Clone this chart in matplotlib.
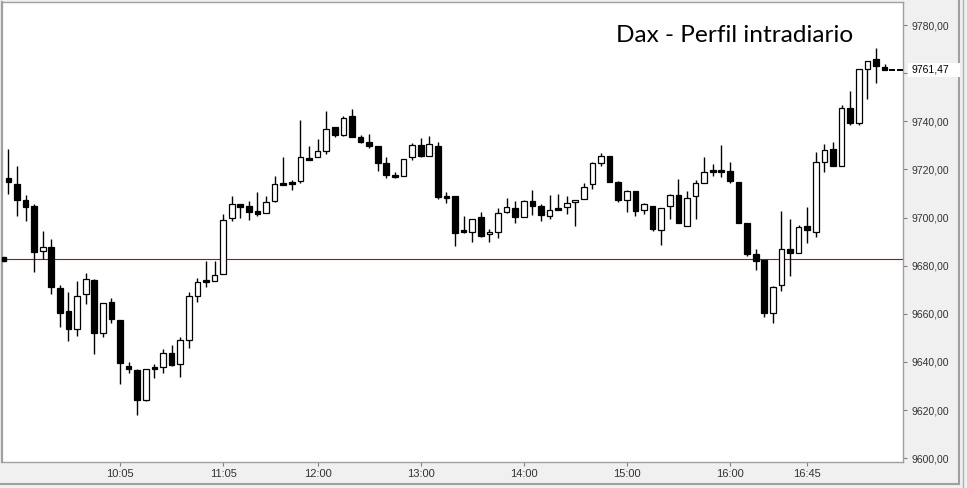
import matplotlib
matplotlib.use("Agg")
import matplotlib.pyplot as plt
from matplotlib.patches import Rectangle
import numpy as np

# 5-minute candles starting 09:00 (index 0)
opens = [9716.3, 9713.9, 9707.5, 9704.8, 9686.2, 9687.6, 9670.6, 9661.2, 9653.5, 9668.1,
         9673.9, 9651.9, 9664.8, 9657.4, 9638.3, 9636.6, 9624.2, 9637.9, 9638.0, 9643.6,
         9639.0, 9649.2, 9667.5, 9674.0, 9673.7, 9676.7, 9699.7, 9705.5, 9704.8, 9702.7,
         9702.1, 9706.7, 9714.3, 9714.7, 9715.0, 9724.6, 9725.3, 9727.8, 9737.5, 9734.4,
         9742.2, 9733.4, 9731.4, 9729.7, 9722.8, 9717.7, 9717.4, 9725.0, 9730.1, 9725.7,
         9729.7, 9708.9, 9708.9, 9694.8, 9694.1, 9700.2, 9693.0, 9694.1, 9702.4, 9703.8,
         9700.3, 9706.7, 9704.6, 9700.8, 9703.9, 9704.2, 9706.3, 9707.8, 9713.8, 9722.5,
         9725.6, 9714.6, 9707.4, 9711.0, 9703.0, 9705.0, 9694.8, 9705.0, 9709.2, 9696.7,
         9708.8, 9714.2, 9719.7, 9719.7, 9719.2, 9714.7, 9697.6, 9684.7, 9682.3, 9660.4,
         9671.8, 9686.8, 9685.4, 9696.5, 9693.8, 9722.9, 9728.5, 9721.6, 9745.4, 9739.5,
         9761.6, 9765.8, 9762.6]
highs = [9728.7, 9721.4, 9709.4, 9705.6, 9694.4, 9691.1, 9672.0, 9668.9, 9673.6, 9676.8,
         9674.3, 9664.3, 9666.4, 9657.4, 9639.8, 9636.9, 9636.9, 9639.0, 9645.2, 9647.0,
         9650.2, 9669.1, 9674.7, 9681.9, 9681.9, 9701.5, 9708.9, 9705.5, 9706.9, 9710.6,
         9708.9, 9717.2, 9725.1, 9715.6, 9740.5, 9729.7, 9732.6, 9744.2, 9737.7, 9742.2,
         9745.1, 9734.4, 9734.8, 9729.7, 9725.1, 9718.9, 9724.3, 9731.1, 9733.2, 9733.9,
         9731.4, 9710.5, 9709.0, 9700.6, 9699.6, 9702.3, 9695.1, 9703.8, 9708.0, 9706.8,
         9707.1, 9711.4, 9705.5, 9709.3, 9709.8, 9708.9, 9707.5, 9714.2, 9722.9, 9726.7,
         9725.6, 9715.4, 9711.4, 9711.1, 9705.9, 9705.0, 9703.8, 9710.0, 9715.9, 9711.0,
         9715.6, 9725.0, 9722.2, 9730.1, 9722.9, 9714.7, 9697.6, 9686.8, 9682.3, 9671.5,
         9702.7, 9699.6, 9696.9, 9704.2, 9727.4, 9730.5, 9731.5, 9746.8, 9752.6, 9761.6,
         9764.9, 9770.3, 9763.8]
lows = [9710.0, 9700.8, 9698.7, 9677.5, 9682.6, 9668.1, 9654.4, 9648.8, 9650.9, 9663.9,
        9643.2, 9650.2, 9656.0, 9630.7, 9635.2, 9617.9, 9623.9, 9633.4, 9635.5, 9638.4,
        9633.9, 9645.9, 9665.0, 9671.3, 9673.7, 9676.6, 9698.7, 9699.9, 9698.9, 9700.7,
        9702.1, 9706.3, 9713.8, 9711.4, 9714.4, 9723.9, 9725.0, 9726.6, 9733.6, 9734.1,
        9733.6, 9730.8, 9729.0, 9719.3, 9716.6, 9716.6, 9717.2, 9724.1, 9725.3, 9725.6,
        9707.7, 9705.9, 9688.3, 9693.7, 9689.9, 9692.0, 9689.9, 9691.6, 9702.1, 9697.8,
        9700.1, 9701.0, 9698.7, 9699.5, 9703.1, 9701.4, 9696.6, 9707.8, 9711.8, 9721.5,
        9714.9, 9706.6, 9702.4, 9700.8, 9701.4, 9694.5, 9688.8, 9699.5, 9697.8, 9696.5,
        9699.5, 9714.2, 9717.4, 9717.0, 9714.2, 9697.8, 9684.0, 9678.2, 9658.5, 9656.3,
        9669.6, 9675.8, 9685.1, 9689.5, 9692.0, 9719.0, 9721.4, 9721.4, 9738.5, 9738.5,
        9749.3, 9755.8, 9761.3]
closes = [9714.9, 9707.5, 9704.5, 9685.8, 9687.6, 9671.0, 9660.5, 9653.5, 9667.4, 9674.3,
          9651.9, 9664.3, 9657.7, 9639.4, 9636.9, 9624.2, 9636.9, 9637.2, 9643.6, 9638.7,
          9649.0, 9667.2, 9673.1, 9673.3, 9676.0, 9698.9, 9705.5, 9704.5, 9702.4, 9701.6,
          9706.3, 9713.8, 9713.6, 9714.0, 9725.0, 9723.9, 9727.5, 9737.0, 9734.4, 9741.2,
          9733.6, 9731.5, 9729.9, 9722.8, 9717.8, 9716.8, 9724.3, 9730.1, 9725.7, 9730.5,
          9708.7, 9708.2, 9693.7, 9693.9, 9699.6, 9692.3, 9694.2, 9701.7, 9704.2, 9700.3,
          9706.7, 9704.9, 9701.2, 9703.0, 9703.2, 9705.9, 9707.5, 9712.9, 9722.5, 9725.4,
          9714.9, 9707.3, 9711.0, 9702.8, 9705.5, 9695.1, 9703.8, 9709.2, 9697.8, 9708.0,
          9714.2, 9718.8, 9719.0, 9719.0, 9715.3, 9697.8, 9685.0, 9682.0, 9660.4, 9671.0,
          9686.8, 9685.4, 9695.9, 9694.8, 9722.9, 9728.0, 9721.4, 9745.4, 9739.4, 9761.6,
          9764.9, 9763.2, 9761.47]

tick_idx = [13, 25, 36, 48, 60, 72, 84, 93]
tick_labels = ["10:05", "11:05", "12:00", "13:00", "14:00", "15:00", "16:00", "16:45"]
y_ticks = [9600, 9620, 9640, 9660, 9680, 9700, 9720, 9740, 9760, 9780]
ref_level = 9682.7
last_price = 9761.47
title = "Dax - Perfil intradiario"

W, H = 967, 488
fig = plt.figure(figsize=(W / 100, H / 100), dpi=100, facecolor="#f0f0f0")
ax = fig.add_axes([2 / W, 26 / H, 901 / W, 460 / H])
ax.set_facecolor("white")

o = np.array(opens)
h = np.array(highs)
l = np.array(lows)
c = np.array(closes)
x = np.arange(len(o))
up = c >= o

ax.vlines(x, l, h, color="black", lw=1.0, zorder=2)
bottom = np.minimum(o, c)
height = np.maximum(np.abs(c - o), 0.5)
ax.bar(x[up], height[up], bottom=bottom[up], width=0.66, color="white",
       edgecolor="black", lw=0.9, zorder=3)
ax.bar(x[~up], height[~up], bottom=bottom[~up], width=0.66, color="black",
       edgecolor="black", lw=0.9, zorder=3)

# last price dashes
ax.hlines([last_price, last_price], [102.5, 103.45], [103.25, 104.15],
          color="black", lw=1.4, zorder=3)

# reference line
ax.axhline(ref_level, color="#d00000", lw=0.8, zorder=1)
ax.plot([-0.55], [ref_level], marker="s", ms=2.5, color="black", zorder=4,
        clip_on=False)

ax.set_xlim(-0.74, 104.15)
ax.set_ylim(9598.4, 9789.6)

ax.yaxis.tick_right()
ax.set_yticks(y_ticks)
# the 9760 label sits under the last-price box, so leave it blank
ax.set_yticklabels(["" if v == 9760 else f"{v:.2f}".replace(".", ",") for v in y_ticks])
ax.set_xticks(tick_idx)
ax.set_xticklabels(tick_labels)
ax.tick_params(axis="y", direction="out", length=3, width=0.8, color="#808080",
               pad=3, labelsize=7.5, labelcolor="#333333")
ax.tick_params(axis="x", direction="out", length=3, width=0.8, color="#808080",
               pad=2, labelsize=8, labelcolor="#333333")
for lab in ax.get_xticklabels():
    lab.set_family(["Liberation Sans Narrow", "Liberation Sans", "DejaVu Sans"])
for lab in ax.get_yticklabels():
    lab.set_family(["Liberation Sans", "DejaVu Sans"])

for s in ax.spines.values():
    s.set_color("#a0a0a0")
    s.set_linewidth(1.0)
ax.spines["left"].set_linewidth(1.6)

# title
fig.text(616 / W, 1 - 35 / H, title, fontsize=17.6, family=["Lato", "DejaVu Sans"],
         ha="left", va="center", color="black")

# last price label box
fig.patches.append(Rectangle((908 / W, 1 - 77 / H), 52 / W, 14 / H,
                             transform=fig.transFigure, facecolor="white",
                             edgecolor="none", zorder=5))
fig.text(911 / W, 1 - 70 / H, f"{last_price:.2f}".replace(".", ","), fontsize=7.5,
         family=["Liberation Sans", "DejaVu Sans"], ha="left", va="center",
         color="black", zorder=6)

# window frame
fig.lines.append(plt.Line2D([959 / W, 959 / W], [4 / H, 1], transform=fig.transFigure,
                            color="#a0a0a0", lw=1.5))
fig.lines.append(plt.Line2D([0, 959 / W], [4 / H, 4 / H], transform=fig.transFigure,
                            color="#a0a0a0", lw=1.5))
fig.lines.append(plt.Line2D([963 / W, 963 / W], [0, 1], transform=fig.transFigure,
                            color="#b0b0b0", lw=1.0))

fig.savefig("out.png", dpi=100, facecolor=fig.get_facecolor())
